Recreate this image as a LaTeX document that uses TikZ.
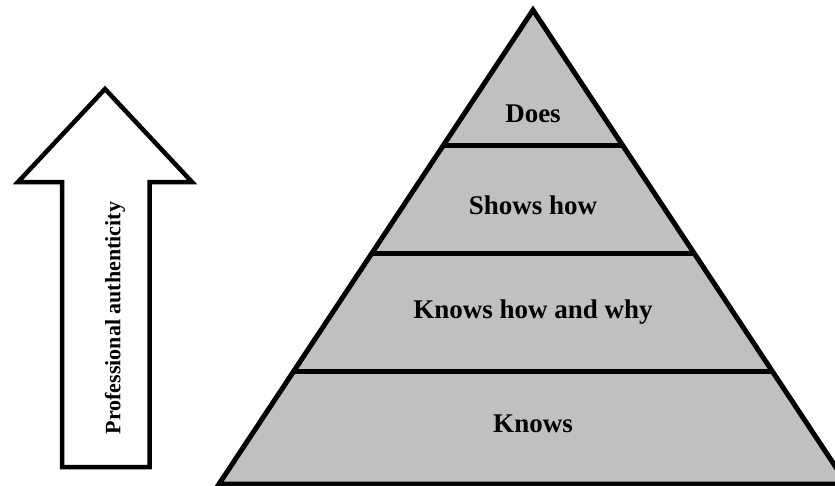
\documentclass[tikz,border=0pt]{standalone}
\usepackage{fontspec}
\setmainfont{Liberation Serif}
\begin{document}
\begin{tikzpicture}[x=1pt,y=-1pt,
  layer/.style={font=\bfseries\fontsize{27}{30}\selectfont, anchor=base},
  edge/.style={line width=5pt, line join=miter},
  arrowbody/.style={line width=4.5pt, line join=miter, fill=white},
  vlabel/.style={font=\bfseries\fontsize{22}{24}\selectfont, rotate=90}]
\useasboundingbox (0,0) rectangle (835,485);
\clip (0,0) rectangle (835,485);

% pyramid corners and band boundaries (slope 0.663 per unit of height)
\coordinate (apex) at (533,10);
\coordinate (bl) at (219,484);
\coordinate (br) at (847,484);
\coordinate (l1) at ({533-0.663*135},145);
\coordinate (r1) at ({533+0.663*135},145);
\coordinate (l2) at ({533-0.663*243},253);
\coordinate (r2) at ({533+0.663*243},253);
\coordinate (l3) at ({533-0.663*361},371);
\coordinate (r3) at ({533+0.663*361},371);

\draw[edge, fill={rgb,255:red,192;green,192;blue,192}] (apex) -- (br) -- (bl) -- cycle;
\draw[edge] (l1) -- (r1);
\draw[edge] (l2) -- (r2);
\draw[edge] (l3) -- (r3);

\node[layer] (does) at (533,122) {Does};
\node[layer] (shows) at (533,214) {Shows how};
\node[layer] (knowshow) at (533,318) {Knows how and why};
\node[layer] (knows) at (533,432) {Knows};

% upward block arrow
\draw[arrowbody] (62,467) -- (62,182) -- (18,182) -- (105,89) -- (192,182)
  -- (149.5,182) -- (149.5,467) -- cycle;
\node[vlabel] (auth) at (115,318) {Professional authenticity};
\end{tikzpicture}
\end{document}
